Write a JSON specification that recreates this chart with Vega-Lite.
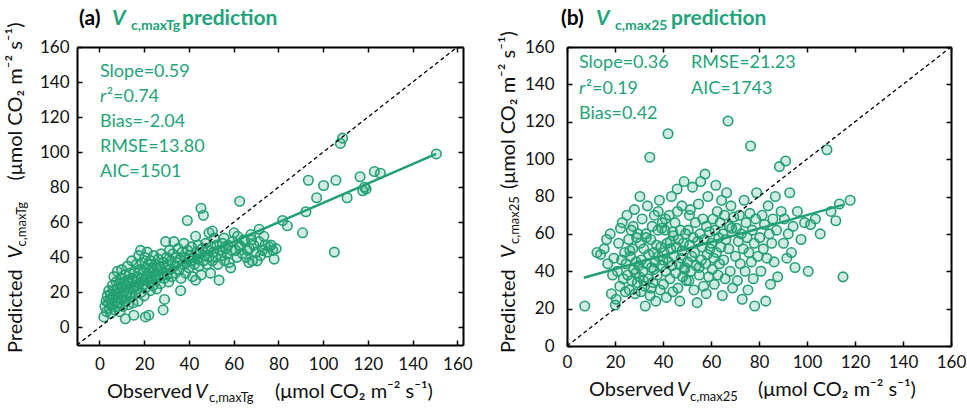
{
"$schema":"https://vega.github.io/schema/vega-lite/v6.json",
"background":"white",
"padding":{"left":5,"top":8,"right":0,"bottom":0},
"spacing":25,
"datasets":{
"a":[{"obs":2,"pred":6},{"obs":2.5,"pred":12},{"obs":3,"pred":15},{"obs":3.2,"pred":9},{"obs":3.5,"pred":18},{"obs":4,"pred":14},{"obs":4.2,"pred":21},{"obs":4.5,"pred":11},{"obs":4.8,"pred":16},{"obs":5,"pred":19},{"obs":5,"pred":8},{"obs":5.5,"pred":13},{"obs":5.8,"pred":24},{"obs":6,"pred":17},{"obs":6.3,"pred":21},{"obs":6.5,"pred":29},{"obs":6.8,"pred":10},{"obs":7,"pred":15},{"obs":7.2,"pred":19},{"obs":7.5,"pred":26},{"obs":7.8,"pred":12},{"obs":8,"pred":22},{"obs":8,"pred":32},{"obs":8.3,"pred":17},{"obs":8.5,"pred":14},{"obs":8.8,"pred":25},{"obs":9,"pred":20},{"obs":9.2,"pred":9},{"obs":9.5,"pred":28},{"obs":9.8,"pred":16},{"obs":10,"pred":23},{"obs":10,"pred":33},{"obs":10.3,"pred":18},{"obs":10.5,"pred":12},{"obs":10.8,"pred":26},{"obs":11,"pred":21},{"obs":11.3,"pred":30},{"obs":11.6,"pred":5},{"obs":11.8,"pred":15},{"obs":12,"pred":24},{"obs":12.2,"pred":19},{"obs":12.5,"pred":35},{"obs":12.8,"pred":27},{"obs":13,"pred":13},{"obs":13.2,"pred":22},{"obs":13.5,"pred":31},{"obs":13.8,"pred":17},{"obs":14,"pred":25},{"obs":14.3,"pred":20},{"obs":14.5,"pred":38},{"obs":14.8,"pred":28},{"obs":15,"pred":14},{"obs":15.4,"pred":7},{"obs":15.5,"pred":23},{"obs":15.8,"pred":32},{"obs":16,"pred":19},{"obs":16.3,"pred":26},{"obs":16.5,"pred":36},{"obs":16.8,"pred":22},{"obs":17,"pred":29},{"obs":17.3,"pred":15},{"obs":17.6,"pred":41},{"obs":17.8,"pred":25},{"obs":18,"pred":33},{"obs":18.4,"pred":44},{"obs":18.5,"pred":20},{"obs":18.8,"pred":28},{"obs":19,"pred":37},{"obs":19.3,"pred":24},{"obs":19.6,"pred":31},{"obs":20,"pred":18},{"obs":20,"pred":27},{"obs":20.3,"pred":40},{"obs":20.6,"pred":6},{"obs":20.8,"pred":34},{"obs":21,"pred":23},{"obs":21.4,"pred":43},{"obs":21.5,"pred":29},{"obs":21.8,"pred":36},{"obs":22.1,"pred":7},{"obs":22.2,"pred":26},{"obs":22.5,"pred":32},{"obs":22.8,"pred":21},{"obs":23,"pred":38},{"obs":23.3,"pred":28},{"obs":23.6,"pred":34},{"obs":24,"pred":24},{"obs":24.3,"pred":41},{"obs":24.6,"pred":30},{"obs":25,"pred":36},{"obs":25.3,"pred":27},{"obs":25.6,"pred":22},{"obs":26,"pred":33},{"obs":26.3,"pred":39},{"obs":26.6,"pred":29},{"obs":27,"pred":35},{"obs":27.3,"pred":25},{"obs":27.6,"pred":42},{"obs":28,"pred":31},{"obs":28.5,"pred":10},{"obs":28.5,"pred":37},{"obs":29,"pred":28},{"obs":29.1,"pred":16},{"obs":29.5,"pred":34},{"obs":29.6,"pred":49},{"obs":30,"pred":40},{"obs":30.3,"pred":30},{"obs":30.6,"pred":36},{"obs":31,"pred":26},{"obs":31.3,"pred":44},{"obs":31.6,"pred":33},{"obs":32,"pred":38},{"obs":32.4,"pred":29},{"obs":32.8,"pred":42},{"obs":33.3,"pred":49},{"obs":33.5,"pred":35},{"obs":34,"pred":31},{"obs":34.4,"pred":40},{"obs":34.8,"pred":37},{"obs":35.2,"pred":45},{"obs":35.6,"pred":33},{"obs":36,"pred":39},{"obs":36.3,"pred":21},{"obs":36.5,"pred":28},{"obs":37,"pred":43},{"obs":37.4,"pred":36},{"obs":37.8,"pred":48},{"obs":38.2,"pred":40},{"obs":38.6,"pred":31},{"obs":39,"pred":37},{"obs":39.3,"pred":61},{"obs":39.5,"pred":44},{"obs":40,"pred":34},{"obs":40.4,"pred":41},{"obs":40.8,"pred":38},{"obs":41.2,"pred":46},{"obs":41.6,"pred":29},{"obs":42,"pred":40},{"obs":42.5,"pred":36},{"obs":43,"pred":27},{"obs":43,"pred":52},{"obs":43.4,"pred":43},{"obs":43.8,"pred":39},{"obs":44.2,"pred":47},{"obs":44.6,"pred":35},{"obs":45,"pred":42},{"obs":45.4,"pred":68},{"obs":45.5,"pred":30},{"obs":46,"pred":45},{"obs":46.5,"pred":64},{"obs":46.5,"pred":38},{"obs":47,"pred":41},{"obs":47.5,"pred":48},{"obs":48,"pred":36},{"obs":48.5,"pred":44},{"obs":49,"pred":54},{"obs":49,"pred":40},{"obs":49.7,"pred":31},{"obs":50,"pred":46},{"obs":50.5,"pred":55},{"obs":50.5,"pred":38},{"obs":51,"pred":43},{"obs":51.3,"pred":51},{"obs":52,"pred":40},{"obs":52.5,"pred":47},{"obs":53,"pred":36},{"obs":53.5,"pred":27},{"obs":54,"pred":44},{"obs":54.5,"pred":41},{"obs":55,"pred":48},{"obs":55.7,"pred":51},{"obs":56,"pred":38},{"obs":56.5,"pred":45},{"obs":57,"pred":42},{"obs":57.5,"pred":47},{"obs":58,"pred":37},{"obs":58.7,"pred":34},{"obs":59,"pred":44},{"obs":59.5,"pred":49},{"obs":60.2,"pred":54},{"obs":60.9,"pred":44},{"obs":61.5,"pred":40},{"obs":61.7,"pred":52},{"obs":62.5,"pred":47},{"obs":62.7,"pred":72},{"obs":63,"pred":46},{"obs":64,"pred":42},{"obs":64.5,"pred":50},{"obs":65,"pred":49},{"obs":65.5,"pred":40},{"obs":66.2,"pred":44},{"obs":66.9,"pred":37},{"obs":67,"pred":45},{"obs":67.7,"pred":53},{"obs":68,"pred":50},{"obs":68.4,"pred":38},{"obs":69,"pred":47},{"obs":70,"pred":43},{"obs":70.5,"pred":38},{"obs":71.4,"pred":56},{"obs":71.4,"pred":49},{"obs":72,"pred":41},{"obs":72.9,"pred":44},{"obs":73.5,"pred":52},{"obs":74,"pred":47},{"obs":75,"pred":43},{"obs":75.9,"pred":46},{"obs":76.7,"pred":47},{"obs":77.5,"pred":44},{"obs":78.1,"pred":39},{"obs":79,"pred":45},{"obs":81.9,"pred":61},{"obs":84,"pred":58},{"obs":90.8,"pred":54},{"obs":92.3,"pred":66},{"obs":93.4,"pred":84},{"obs":97.1,"pred":74},{"obs":100.2,"pred":81},{"obs":105,"pred":43},{"obs":105.7,"pred":84},{"obs":107.7,"pred":105},{"obs":108.7,"pred":108},{"obs":110.7,"pred":74},{"obs":116.5,"pred":86},{"obs":117.7,"pred":78},{"obs":118.5,"pred":80},{"obs":119.2,"pred":79},{"obs":122.9,"pred":89},{"obs":125.6,"pred":88},{"obs":150.6,"pred":99}],
"b":[{"obs":7.4,"pred":21.4},{"obs":12.5,"pred":50},{"obs":14,"pred":49},{"obs":15.5,"pred":52},{"obs":16.5,"pred":57},{"obs":17,"pred":44},{"obs":18,"pred":60},{"obs":18.5,"pred":28},{"obs":19,"pred":38},{"obs":19.5,"pred":47},{"obs":20.1,"pred":21.9},
{"obs":20.5,"pred":25},{"obs":21,"pred":40},{"obs":21.5,"pred":55},{"obs":22,"pred":32},{"obs":22.3,"pred":63},{"obs":22.8,"pred":46},{"obs":23,"pred":66},{"obs":23.5,"pred":36},{"obs":24,"pred":50},{"obs":24.3,"pred":29},{"obs":24.6,"pred":44},{"obs":25,"pred":70},{"obs":25.3,"pred":38},{"obs":25.7,"pred":57},{"obs":26,"pred":30},{"obs":26.4,"pred":48},{"obs":26.8,"pred":62},{"obs":27,"pred":35},{"obs":27.4,"pred":52},{"obs":27.8,"pred":41},{"obs":28.1,"pred":73},{"obs":28.4,"pred":28},{"obs":28.8,"pred":45},{"obs":29,"pred":58},{"obs":29.3,"pred":34},{"obs":29.6,"pred":60},{"obs":29.9,"pred":43},{"obs":26.2,"pred":51},{"obs":27.6,"pred":64},{"obs":28.6,"pred":39},
{"obs":30.2,"pred":37},{"obs":30.5,"pred":55},{"obs":30.8,"pred":29},{"obs":31,"pred":46},{"obs":31.3,"pred":68},{"obs":31.6,"pred":40},{"obs":32,"pred":52},{"obs":32.3,"pred":32},{"obs":32.6,"pred":21.4},{"obs":32.9,"pred":60},{"obs":33.2,"pred":44},{"obs":33.5,"pred":75},{"obs":33.8,"pred":36},{"obs":34.1,"pred":49},{"obs":34.5,"pred":101},{"obs":34.6,"pred":27},{"obs":34.9,"pred":57},{"obs":35.2,"pred":42},{"obs":35.5,"pred":64},{"obs":35.8,"pred":34},{"obs":36.1,"pred":50},{"obs":36.4,"pred":70},{"obs":36.7,"pred":45},{"obs":37,"pred":24},{"obs":37.3,"pred":54},{"obs":37.6,"pred":38},{"obs":37.9,"pred":62},{"obs":38.2,"pred":48},{"obs":38.5,"pred":78},{"obs":38.8,"pred":30},{"obs":39.1,"pred":53},{"obs":39.4,"pred":43},{"obs":39.7,"pred":66},{"obs":30.4,"pred":80},{"obs":31.9,"pred":35},{"obs":33,"pred":58},{"obs":35,"pred":31},{"obs":36.2,"pred":41},{"obs":38,"pred":72},{"obs":39.5,"pred":63},
{"obs":40.2,"pred":33},{"obs":40.5,"pred":50},{"obs":40.8,"pred":62},{"obs":41.1,"pred":40},{"obs":41.4,"pred":26},{"obs":41.7,"pred":55},{"obs":42.1,"pred":113.6},{"obs":42.3,"pred":45},{"obs":42.6,"pred":70},{"obs":42.9,"pred":36},{"obs":43.2,"pred":52},{"obs":43.5,"pred":80},{"obs":43.8,"pred":43},{"obs":44.1,"pred":29},{"obs":44.4,"pred":59},{"obs":44.7,"pred":48},{"obs":45,"pred":66},{"obs":45.3,"pred":39},{"obs":45.6,"pred":53},{"obs":45.9,"pred":84},{"obs":46.2,"pred":31},{"obs":46.5,"pred":57},{"obs":46.8,"pred":44},{"obs":47,"pred":24},{"obs":47.3,"pred":62},{"obs":47.6,"pred":47},{"obs":47.9,"pred":75},{"obs":48.2,"pred":37},{"obs":48.5,"pred":55},{"obs":48.8,"pred":88},{"obs":49.1,"pred":42},{"obs":49.4,"pred":60},{"obs":49.7,"pred":35},{"obs":40,"pred":46},{"obs":41,"pred":68},{"obs":43,"pred":56},{"obs":44,"pred":61},{"obs":46,"pred":72},{"obs":48,"pred":51},{"obs":49,"pred":41},
{"obs":50.2,"pred":45},{"obs":50.5,"pred":62},{"obs":50.8,"pred":35},{"obs":51.1,"pred":54},{"obs":51.4,"pred":73},{"obs":51.7,"pred":40},{"obs":52,"pred":48},{"obs":52.3,"pred":85},{"obs":52.6,"pred":58},{"obs":52.9,"pred":30},{"obs":53.2,"pred":50},{"obs":53.5,"pred":66},{"obs":53.8,"pred":43},{"obs":54.2,"pred":23.2},{"obs":54.5,"pred":56},{"obs":54.8,"pred":76},{"obs":55.1,"pred":38},{"obs":55.4,"pred":60},{"obs":55.7,"pred":88},{"obs":56,"pred":46},{"obs":56.3,"pred":53},{"obs":56.6,"pred":68},{"obs":56.9,"pred":32},{"obs":57.2,"pred":57},{"obs":57.5,"pred":92},{"obs":57.8,"pred":44},{"obs":58.1,"pred":64},{"obs":58.4,"pred":49},{"obs":58.7,"pred":80},{"obs":59,"pred":37},{"obs":59.3,"pred":61},{"obs":59.6,"pred":52},{"obs":51,"pred":70},{"obs":55,"pred":42},{"obs":58,"pred":28},
{"obs":60.2,"pred":55},{"obs":60.5,"pred":41},{"obs":60.8,"pred":68},{"obs":61.1,"pred":47},{"obs":61.4,"pred":33},{"obs":61.7,"pred":62},{"obs":62,"pred":86},{"obs":62.3,"pred":50},{"obs":62.6,"pred":72},{"obs":62.9,"pred":38},{"obs":63.2,"pred":58},{"obs":63.5,"pred":44},{"obs":63.8,"pred":66},{"obs":64.1,"pred":53},{"obs":64.4,"pred":78},{"obs":64.7,"pred":27},{"obs":65,"pred":60},{"obs":65.3,"pred":46},{"obs":65.6,"pred":70},{"obs":65.9,"pred":36},{"obs":66.2,"pred":57},{"obs":66.5,"pred":82},{"obs":67.1,"pred":120.4},{"obs":67.4,"pred":52},{"obs":67.7,"pred":64},{"obs":68,"pred":40},{"obs":68.3,"pred":75},{"obs":68.6,"pred":63},{"obs":69,"pred":31},{"obs":69.5,"pred":69},
{"obs":70.2,"pred":48},{"obs":70.6,"pred":63},{"obs":71,"pred":35},{"obs":71.4,"pred":56},{"obs":71.8,"pred":70},{"obs":72.2,"pred":44},{"obs":72.6,"pred":60},{"obs":73,"pred":25},{"obs":73.4,"pred":52},{"obs":73.8,"pred":78},{"obs":74.2,"pred":40},{"obs":74.6,"pred":66},{"obs":75,"pred":58},{"obs":75.4,"pred":30},{"obs":75.8,"pred":50},{"obs":76.2,"pred":71},{"obs":76.5,"pred":107},{"obs":76.8,"pred":45},{"obs":77.2,"pred":62},{"obs":77.6,"pred":36},{"obs":78,"pred":55},{"obs":78.2,"pred":21.4},{"obs":78.6,"pred":68},{"obs":79,"pred":82},{"obs":79.5,"pred":48},
{"obs":80.3,"pred":58},{"obs":80.8,"pred":40},{"obs":81.3,"pred":70},{"obs":81.8,"pred":52},{"obs":82.3,"pred":65},{"obs":82.8,"pred":24},{"obs":83.3,"pred":47},{"obs":83.8,"pred":75},{"obs":84.3,"pred":60},{"obs":84.8,"pred":33},{"obs":85.3,"pred":55},{"obs":85.8,"pred":68},{"obs":86.3,"pred":45},{"obs":86.8,"pred":80},{"obs":87.3,"pred":62},{"obs":87.8,"pred":37},{"obs":88.5,"pred":96},{"obs":89.2,"pred":72},
{"obs":90.2,"pred":55},{"obs":90.6,"pred":68},{"obs":91.1,"pred":99},{"obs":91.6,"pred":47},{"obs":92.2,"pred":60},{"obs":92.8,"pred":82},{"obs":93.5,"pred":50},{"obs":94.2,"pred":64},{"obs":95,"pred":42},{"obs":96,"pred":72},{"obs":97.5,"pred":57},{"obs":99,"pred":66},
{"obs":100.5,"pred":40},{"obs":101.5,"pred":65},{"obs":103.5,"pred":68},{"obs":105.5,"pred":60},{"obs":108.3,"pred":105},{"obs":110,"pred":72},{"obs":112,"pred":67},{"obs":113.5,"pred":76},{"obs":115,"pred":37},{"obs":118,"pred":78}],
"fitA":[{"obs":3,"pred":17.5},{"obs":150.5,"pred":99}],
"fitB":[{"obs":7,"pred":36.5},{"obs":115,"pred":75.5}],
"diagA":[{"v":-10},{"v":160}],
"diagB":[{"v":0},{"v":160}],
"one":[{}]
},
"config":{
"view":{"stroke":null},
"axis":{"domainColor":"#000","domainWidth":2,"tickColor":"#000","tickWidth":1.5,"tickSize":-5,"labelFont":"Lato","labelFontSize":17,"labelColor":"#111","grid":false,"labelFlush":false,"labelOverlap":false},
"text":{"font":"Lato"}
},
"hconcat":[
{
"width":386,"height":298,
"resolve":{"axis":{"x":"independent","y":"independent"}},
"layer":[
{"data":{"name":"a"},"mark":{"type":"circle","size":90,"fill":"#23a073","fillOpacity":0.2,"stroke":"#23a073","strokeWidth":1.6,"opacity":1},
"encoding":{
"x":{"field":"obs","type":"quantitative","scale":{"domain":[-10,162.5],"nice":false,"zero":false},"axis":{"orient":"bottom","values":[0,20,40,60,80,100,120,140,160],"title":null,"labelPadding":16}},
"y":{"field":"pred","type":"quantitative","scale":{"domain":[-10,160],"nice":false,"zero":false},"axis":{"orient":"left","values":[0,20,40,60,80,100,120,140,160],"title":null,"labelPadding":13}}}},
{"data":{"name":"diagA"},"mark":{"type":"line","color":"#000","strokeWidth":1.3,"strokeDash":[4,3]},
"encoding":{
"x":{"field":"v","type":"quantitative","scale":{"domain":[-10,162.5],"nice":false,"zero":false},"axis":{"orient":"top","values":[0,20,40,60,80,100,120,140,160],"labels":false,"title":null}},
"y":{"field":"v","type":"quantitative","scale":{"domain":[-10,160],"nice":false,"zero":false},"axis":{"orient":"right","values":[0,20,40,60,80,100,120,140,160],"labels":false,"title":null}}}},
{"data":{"name":"fitA"},"mark":{"type":"line","color":"#23a073","strokeWidth":2.5},
"encoding":{"x":{"field":"obs","type":"quantitative","axis":null},"y":{"field":"pred","type":"quantitative","axis":null}}},
{"data":{"name":"one"},
"encoding":{"x":{"datum":-10,"type":"quantitative","axis":null},"y":{"datum":160,"type":"quantitative","axis":null}},
"layer":[
{"mark":{"type":"text","text":"(a)","fontSize":21,"fontWeight":"bold","fill":"#000","align":"left","baseline":"alphabetic","dx":2,"dy":-22}},
{"mark":{"type":"text","text":"V","fontSize":21,"fontWeight":"bold","fontStyle":"italic","fill":"#1ea479","align":"left","baseline":"alphabetic","dx":35,"dy":-22}},
{"mark":{"type":"text","text":"c,maxTg","fontSize":14,"fontWeight":"bold","fill":"#1ea479","align":"left","baseline":"alphabetic","dx":54,"dy":-17}},
{"mark":{"type":"text","text":"prediction","fontSize":21,"fontWeight":"bold","fill":"#1ea479","align":"left","baseline":"alphabetic","dx":105,"dy":-22}},
{"mark":{"type":"text","text":"Slope=0.59","fontSize":18,"fill":"#1ea479","align":"left","baseline":"alphabetic","dx":23,"dy":30}},
{"mark":{"type":"text","text":"r","fontSize":18,"fontStyle":"italic","fill":"#1ea479","align":"left","baseline":"alphabetic","dx":23,"dy":55}},
{"mark":{"type":"text","text":"²=0.74","fontSize":18,"fill":"#1ea479","align":"left","baseline":"alphabetic","dx":30,"dy":55}},
{"mark":{"type":"text","text":"Bias=-2.04","fontSize":18,"fill":"#1ea479","align":"left","baseline":"alphabetic","dx":23,"dy":80}},
{"mark":{"type":"text","text":"RMSE=13.80","fontSize":18,"fill":"#1ea479","align":"left","baseline":"alphabetic","dx":23,"dy":105}},
{"mark":{"type":"text","text":"AIC=1501","fontSize":18,"fill":"#1ea479","align":"left","baseline":"alphabetic","dx":23,"dy":130}}
]},
{"data":{"name":"one"},
"encoding":{"x":{"datum":-10,"type":"quantitative","axis":null},"y":{"datum":-10,"type":"quantitative","axis":null}},
"layer":[
{"mark":{"type":"text","text":"Observed","fontSize":20,"fill":"#111","align":"left","baseline":"alphabetic","dx":30,"dy":52.5}},
{"mark":{"type":"text","text":"V","fontSize":20,"fontStyle":"italic","fill":"#111","align":"left","baseline":"alphabetic","dx":118,"dy":52.5}},
{"mark":{"type":"text","text":"c,maxTg","fontSize":13,"fill":"#111","align":"left","baseline":"alphabetic","dx":132,"dy":57}},
{"mark":{"type":"text","text":"(μmol CO₂ m⁻² s⁻¹)","fontSize":20,"fill":"#111","align":"left","baseline":"alphabetic","dx":198,"dy":52.5}},
{"mark":{"type":"text","text":"Predicted","angle":270,"fontSize":20,"fill":"#111","align":"left","baseline":"alphabetic","dx":-8,"dy":-55}},
{"mark":{"type":"text","text":"V","angle":270,"fontSize":20,"fontStyle":"italic","fill":"#111","align":"left","baseline":"alphabetic","dx":86.6,"dy":-55}},
{"mark":{"type":"text","text":"c,maxTg","angle":270,"fontSize":13,"fill":"#111","align":"left","baseline":"alphabetic","dx":98.6,"dy":-51}},
{"mark":{"type":"text","text":"(μmol CO₂ m⁻² s⁻¹)","angle":270,"fontSize":20,"fill":"#111","align":"left","baseline":"alphabetic","dx":164.6,"dy":-55}}
]}
]
},
{
"width":384,"height":299,
"resolve":{"axis":{"x":"independent","y":"independent"}},
"layer":[
{"data":{"name":"b"},"mark":{"type":"circle","size":90,"fill":"#23a073","fillOpacity":0.2,"stroke":"#23a073","strokeWidth":1.6,"opacity":1},
"encoding":{
"x":{"field":"obs","type":"quantitative","scale":{"domain":[0,160],"nice":false,"zero":false},"axis":{"orient":"bottom","values":[0,20,40,60,80,100,120,140,160],"title":null,"labelPadding":13}},
"y":{"field":"pred","type":"quantitative","scale":{"domain":[0,160],"nice":false,"zero":false},"axis":{"orient":"left","values":[0,20,40,60,80,100,120,140,160],"title":null,"labelPadding":18}}}},
{"data":{"name":"diagB"},"mark":{"type":"line","color":"#000","strokeWidth":1.3,"strokeDash":[4,3]},
"encoding":{
"x":{"field":"v","type":"quantitative","scale":{"domain":[0,160],"nice":false,"zero":false},"axis":{"orient":"top","values":[0,20,40,60,80,100,120,140,160],"labels":false,"title":null}},
"y":{"field":"v","type":"quantitative","scale":{"domain":[0,160],"nice":false,"zero":false},"axis":{"orient":"right","values":[0,20,40,60,80,100,120,140,160],"labels":false,"title":null}}}},
{"data":{"name":"fitB"},"mark":{"type":"line","color":"#23a073","strokeWidth":2.5},
"encoding":{"x":{"field":"obs","type":"quantitative","axis":null},"y":{"field":"pred","type":"quantitative","axis":null}}},
{"data":{"name":"one"},
"encoding":{"x":{"datum":0,"type":"quantitative","axis":null},"y":{"datum":160,"type":"quantitative","axis":null}},
"layer":[
{"mark":{"type":"text","text":"(b)","fontSize":21,"fontWeight":"bold","fill":"#000","align":"left","baseline":"alphabetic","dx":-6,"dy":-22}},
{"mark":{"type":"text","text":"V","fontSize":21,"fontWeight":"bold","fontStyle":"italic","fill":"#1ea479","align":"left","baseline":"alphabetic","dx":29,"dy":-22}},
{"mark":{"type":"text","text":"c,max25","fontSize":14,"fontWeight":"bold","fill":"#1ea479","align":"left","baseline":"alphabetic","dx":48,"dy":-17}},
{"mark":{"type":"text","text":"prediction","fontSize":21,"fontWeight":"bold","fill":"#1ea479","align":"left","baseline":"alphabetic","dx":104,"dy":-22}},
{"mark":{"type":"text","text":"Slope=0.36","fontSize":18,"fill":"#1ea479","align":"left","baseline":"alphabetic","dx":12,"dy":21}},
{"mark":{"type":"text","text":"r","fontSize":18,"fontStyle":"italic","fill":"#1ea479","align":"left","baseline":"alphabetic","dx":12,"dy":46.5}},
{"mark":{"type":"text","text":"²=0.19","fontSize":18,"fill":"#1ea479","align":"left","baseline":"alphabetic","dx":19,"dy":46.5}},
{"mark":{"type":"text","text":"Bias=0.42","fontSize":18,"fill":"#1ea479","align":"left","baseline":"alphabetic","dx":12,"dy":72}},
{"mark":{"type":"text","text":"RMSE=21.23","fontSize":18,"fill":"#1ea479","align":"left","baseline":"alphabetic","dx":124,"dy":21}},
{"mark":{"type":"text","text":"AIC=1743","fontSize":18,"fill":"#1ea479","align":"left","baseline":"alphabetic","dx":124,"dy":46.5}}
]},
{"data":{"name":"one"},
"encoding":{"x":{"datum":0,"type":"quantitative","axis":null},"y":{"datum":0,"type":"quantitative","axis":null}},
"layer":[
{"mark":{"type":"text","text":"Observed","fontSize":20,"fill":"#111","align":"left","baseline":"alphabetic","dx":22,"dy":50}},
{"mark":{"type":"text","text":"V","fontSize":20,"fontStyle":"italic","fill":"#111","align":"left","baseline":"alphabetic","dx":110,"dy":50}},
{"mark":{"type":"text","text":"c,max25","fontSize":13,"fill":"#111","align":"left","baseline":"alphabetic","dx":123,"dy":54.5}},
{"mark":{"type":"text","text":"(μmol CO₂ m⁻² s⁻¹)","fontSize":20,"fill":"#111","align":"left","baseline":"alphabetic","dx":191,"dy":50}},
{"mark":{"type":"text","text":"Predicted","angle":270,"fontSize":20,"fill":"#111","align":"left","baseline":"alphabetic","dx":-7,"dy":-52}},
{"mark":{"type":"text","text":"V","angle":270,"fontSize":20,"fontStyle":"italic","fill":"#111","align":"left","baseline":"alphabetic","dx":88,"dy":-52}},
{"mark":{"type":"text","text":"c,max25","angle":270,"fontSize":13,"fill":"#111","align":"left","baseline":"alphabetic","dx":102,"dy":-48}},
{"mark":{"type":"text","text":"(μmol CO₂ m⁻² s⁻¹)","angle":270,"fontSize":20,"fill":"#111","align":"left","baseline":"alphabetic","dx":157,"dy":-52}}
]}
]
}
]
}
